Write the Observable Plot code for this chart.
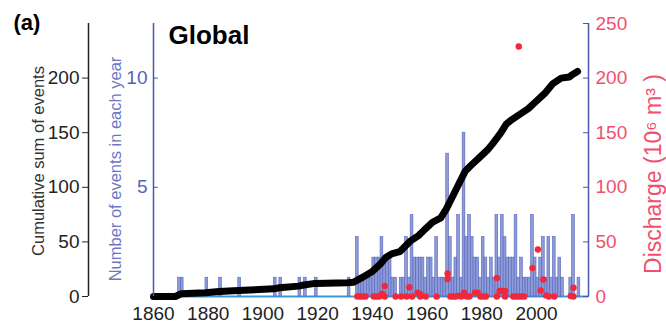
<!DOCTYPE html>
<html><head><meta charset="utf-8">
<script src="https://cdn.jsdelivr.net/npm/d3@7"></script>
<script src="https://cdn.jsdelivr.net/npm/@observablehq/plot@0.6"></script>
<style>body{margin:0;background:#fff}</style>
</head><body><div id="chart"></div>
<script>
// ---- tick labels ----
const xTicks = [1860, 1880, 1900, 1920, 1940, 1960, 1980, 2000];
const cumTicks = [0, 50, 100, 150, 200];
const eventTicks = [5, 10];
const dischargeTicks = [0, 50, 100, 150, 200, 250];

// ---- texts ----
const panelLabel = "(a)";
const regionTitle = "Global";
const cumLabel = "Cumulative sum of events";
const eventsLabel = "Number of events in each year";
const dischargeLabel = "Discharge (10\u2076 m\u00B3 )";

// ---- number of events in each year (bar heights read on the events axis) ----
const barYears = [1869,1870,1879,1884,1891,1904,1906,1913,1915,1919,1931,
  1934,1935,1936,1937,1938,1939,1940,1941,1942,1943,1944,1945,1946,1947,1948,1950,
  1951,1952,1953,1954,1955,1956,1957,1958,1959,1960,1961,1962,1963,1964,1965,1966,
  1967,1968,1969,1970,1971,1972,1973,1974,1975,1976,1977,1978,1979,1980,1981,1982,
  1983,1984,1985,1986,1987,1988,1989,1990,1991,1992,1993,1994,1995,1996,1997,1998,
  1999,2000,2001,2002,2003,2004,2005,2006,2007,2008,2009,2012,2013,2015];
const barEvents = [0.86,0.86,0.86,0.86,0.86,0.86,0.86,0.86,0.86,0.86,0.86,
  2.72,0.86,0.86,0.86,0.86,0.86,1.78,1.78,1.78,2.72,1.78,1.78,1.78,0.86,0.86,0.86,
  0.86,2.72,0.86,3.73,1.78,1.78,1.78,1.78,0.86,1.78,1.78,0.86,2.72,0.86,0.86,0.86,
  6.54,2.72,0.86,1.78,3.73,0.86,7.5,2.72,3.73,2.72,1.78,1.78,0.86,2.72,1.78,0.86,
  1.78,0.86,3.73,1.78,3.73,2.72,1.78,1.78,1.78,3.73,0.86,1.78,0.86,0.86,0.86,3.73,
  1.78,0.86,1.78,2.72,0.86,2.72,0.86,2.72,0.86,1.78,0.86,0.86,3.73,0.86];

// ---- cumulative sum of events ----
const cumYears = [1860,1868,1870,1879,1884,1891,1904,1906,1913,1915,1919,1931,1933,1936,1938,
  1940,1943,1945,1947,1950,1952,1954,1957,1959,1962,1965,1967,1969,1971,1974,1976,1979,
  1982,1984,1987,1989,1991,1994,1997,2000,2003,2006,2009,2012,2013,2015];
const cumValues = [0,0,2.5,3.5,4.5,5.5,7,8,9.5,10.5,12,12.5,13,17,20,
  23,30,36,39,41,46,51,56,61,68,72,80,90,100,115,120,127,
  134,140,150,158,162,167,172,179,186,195,200,201,203,206];

// ---- discharge (10^6 m^3) ----
const dischargeYears = [1934,1935,1936,1937,1940,1941,1942,1943,1944,1944,1948,1950,1952,1953,
  1954,1956,1957,1957,1959,1963,1967,1967,1968,1969,1970,1971,1972,1973,1974,1975,1977,1978,
  1979,1980,1981,1985,1985,1986,1987,1988,1988,1991,1992,1993,1993,1994,1995,1998,2000,2001,
  2002,2003,2004,2006,2012,2013,2013];
const dischargeValues = [0,0,0,0,0,0,0,2.5,9.6,0,0,0,0,8.5,
  0,3.5,2,0,0,0,21,16,0,0,0,0.5,0,3.5,0,0,3.5,3.5,
  0,0,0,17,0,5,5,5,0,0,0,229,0,0,0,26,43,5.5,
  15.5,1,0,0,0.5,8,0];

const bars = barYears.map((year, i) => ({year, events: barEvents[i]}));
const cum = cumYears.map((year, i) => ({year, value: cumValues[i]}));
const discharge = dischargeYears.map((year, i) => ({year, value: dischargeValues[i]}));

const xDomain = [1860, 2019];
const yDomain = [0, 250];       // cumulative & discharge scale
const eventsPerUnit = 20;       // events axis = cumulative / 20
const blue = "#4a58ad";
const red = "#f0506e";
const font = '"Liberation Sans", Arial, sans-serif';

const plot = Plot.plot({
  width: 666, height: 333,
  marginLeft: 153, marginRight: 78, marginTop: 23, marginBottom: 37,
  style: {fontFamily: font, background: "white", overflow: "visible"},
  x: {domain: xDomain},
  y: {domain: yDomain},
  marks: [
    Plot.ruleY([0], {stroke: "#3d97dc", strokeWidth: 2}),
    Plot.rectY(bars, {x1: "year", x2: d => d.year + 1, y: d => d.events * eventsPerUnit,
      fill: "#8e9bd8", stroke: "#5566ba", strokeWidth: 0.6}),
    Plot.line(cum, {x: "year", y: "value", stroke: "black", strokeWidth: 7,
      strokeLinejoin: "round", strokeLinecap: "round"}),
    Plot.dot(discharge, {x: d => d.year + 0.5, y: "value", r: 3.2, fill: "#f0283c"}),
    // axis lines
    Plot.ruleX(xDomain, {y1: yDomain[0], y2: yDomain[1], stroke: blue, strokeWidth: 1.5}),
    Plot.ruleX([xDomain[0]], {y1: yDomain[0], y2: yDomain[1], dx: -65, stroke: "#222", strokeWidth: 1.5}),
    // left black axis: cumulative
    Plot.axisY({ticks: cumTicks, anchor: "left", dx: -65, tickSize: 6, tickPadding: 3,
      fontSize: 19, color: "#222", label: null}),
    // events axis (blue)
    Plot.axisY({ticks: eventTicks.map(v => v * eventsPerUnit), tickFormat: d => String(d / eventsPerUnit),
      anchor: "left", dx: 5, tickSize: 5, tickPadding: 6, fontSize: 19,
      stroke: blue, fill: "#5565b5", label: null}),
    // discharge axis (right)
    Plot.axisY({ticks: dischargeTicks, tickFormat: d => String(d), anchor: "right", dx: -6, tickSize: 6, tickPadding: 7,
      fontSize: 19, stroke: blue, fill: red, label: null}),
    // x axis
    Plot.axisX({ticks: xTicks, tickFormat: d => String(d), tickSize: 0, tickPadding: 10,
      fontSize: 19, color: "#222", label: null}),
    // labels
    Plot.text([cumLabel], {text: d => d, frameAnchor: "left", dx: -115, dy: 1, rotate: -90,
      textAnchor: "middle", lineAnchor: "middle", fontSize: 16.5, fill: "#333"}),
    Plot.text([eventsLabel], {text: d => d, frameAnchor: "left", dx: -38, dy: 9, rotate: -90,
      textAnchor: "middle", lineAnchor: "middle", fontSize: 16.5, fill: "#6a78c4"}),
    Plot.text([dischargeLabel], {text: d => d, frameAnchor: "right", dx: 65, dy: 14, rotate: -90,
      textAnchor: "middle", lineAnchor: "middle", fontSize: 23, fill: red}),
    Plot.text([regionTitle], {text: d => d, frameAnchor: "top-left", dx: 15, dy: 12,
      textAnchor: "start", lineAnchor: "middle", fontSize: 26, fontWeight: "bold", fill: "black"}),
    Plot.text([panelLabel], {text: d => d, frameAnchor: "top-left", dx: -140, dy: -1,
      textAnchor: "start", lineAnchor: "middle", fontSize: 22, fontWeight: "bold", fill: "black"})
  ]
});
document.getElementById("chart").appendChild(plot);
</script>
</body></html>
